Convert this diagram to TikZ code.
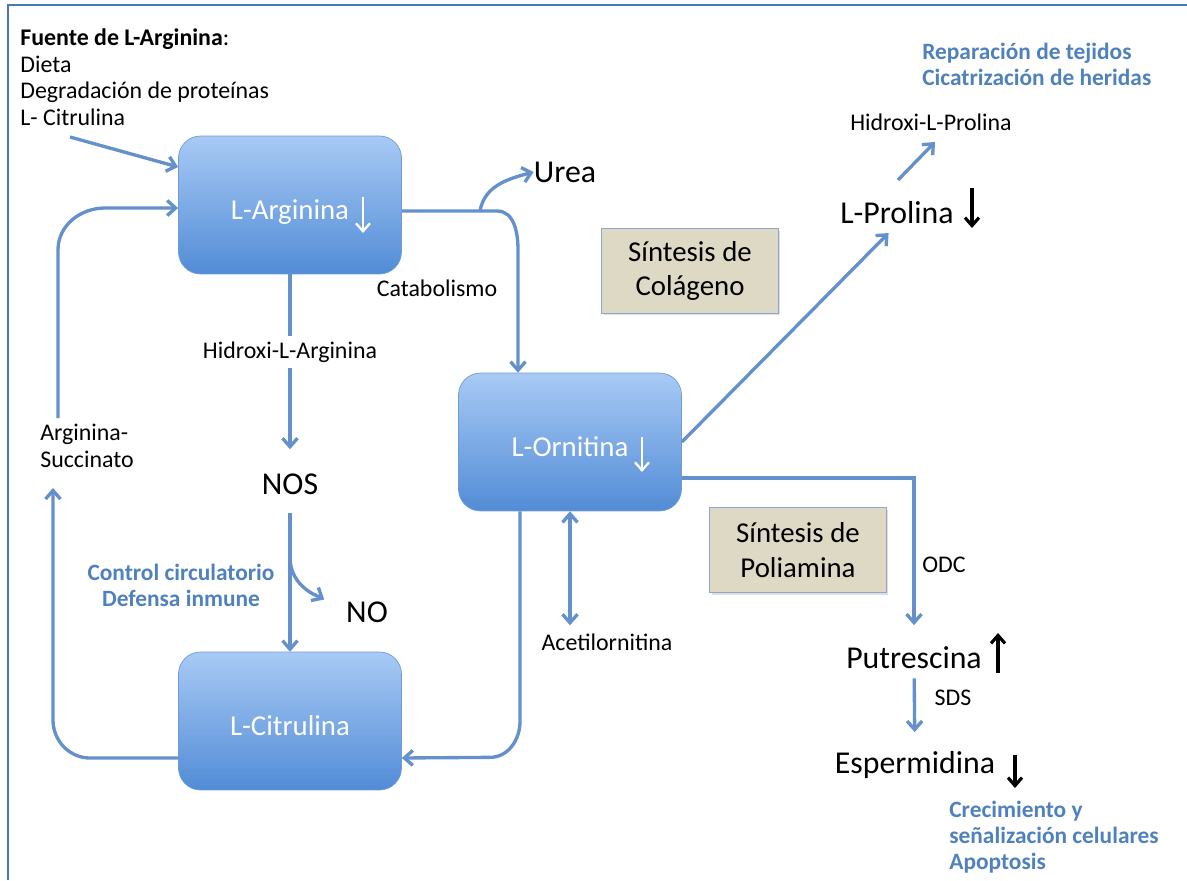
\documentclass[tikz,border=0pt]{standalone}
\usepackage{fontspec}
\setmainfont{Carlito}
\usetikzlibrary{arrows.meta,shadows}
\definecolor{flowblue}{RGB}{100,144,204}
\definecolor{textblue}{RGB}{79,129,189}
\definecolor{boxtop}{RGB}{168,202,245}
\definecolor{boxbot}{RGB}{82,140,214}
\definecolor{boxline}{RGB}{112,156,214}
\definecolor{notefill}{RGB}{221,217,196}
\definecolor{noteline}{RGB}{140,168,204}
\definecolor{framecol}{RGB}{74,120,180}
\tikzstyle{Block} = [draw=boxline, rounded corners=0.44cm, top color=boxtop, bottom color=boxbot, minimum width=4.46cm, minimum height=2.76cm, text=white, text height=20pt, text depth=4pt, font=\fontsize{16.4}{19.7}\selectfont]
\tikzstyle{Note} = [draw=noteline, fill=notefill, minimum width=3.54cm, minimum height=1.7cm, align=center, font=\fontsize{16.4}{19.8}\selectfont, drop shadow={opacity=0.25, shadow xshift=0.04cm, shadow yshift=-0.04cm}]
\tikzstyle{Big} = [inner sep=0pt, font=\fontsize{18.1}{21.7}\selectfont]
\tikzstyle{Small} = [inner sep=0pt, font=\fontsize{13.6}{15.3}\selectfont]
\tikzstyle{Effect} = [inner sep=0pt, text=textblue, font=\bfseries\fontsize{13.3}{14.8}\selectfont]
\tikzstyle{Line} = [draw=flowblue, line width=1.9pt]
\tikzstyle{Flow} = [Line, -{Straight Barb[length=1.7mm, width=3mm]}]
\tikzstyle{Both} = [Line, {Straight Barb[length=1.7mm, width=3mm]}-{Straight Barb[length=1.7mm, width=3mm]}]
\tikzstyle{Trend} = [line width=1.8pt, -{Straight Barb[length=1.6mm, width=2.8mm]}]

\begin{document}
\begin{tikzpicture}[x=0.02cm, y=-0.02cm]
  \useasboundingbox (0,0) rectangle (1187,880);
  \draw[framecol, line width=1.2pt] (8,880) -- (8,5) -- (1187,5);

  \node[Block] (arg) at (290,205) {L-Arginina};
  \node[Block] (orn) at (570,442) {L-Ornitina};
  \node[Block] (cit) at (290,721) {L-Citrulina};
  \node[Note]  (col) at (690,271) {Síntesis de\\Colágeno};
  \node[Note]  (pol) at (798,550) {Síntesis de\\Poliamina};

  \node[Small, anchor=north west, align=left] (src) at (20,28) {\textbf{Fuente de L-Arginina}:\\Dieta\\Degradación de proteínas\\L- Citrulina};
  \node[Small, align=left] (suc) at (87,446) {Arginina-\\Succinato};
  \node[Small, fill=white, inner sep=3pt] (hla) at (290,352) {Hidroxi-L-Arginina};
  \node[Small] (cat) at (437,288) {Catabolismo};
  \node[Small] (ace) at (607,642) {Acetilornitina};
  \node[Small] (hlp) at (931,122) {Hidroxi-L-Prolina};
  \node[Small] (odc) at (944,565) {ODC};
  \node[Small] (sds) at (953,698) {SDS};
  \node[Big] (urea) at (565,172) {Urea};
  \node[Big] (nos)  at (290,484) {NOS};
  \node[Big] (no)   at (367,612) {NO};
  \node[Big] (pro)  at (897,213) {L-Prolina};
  \node[Big] (put)  at (914,658) {Putrescina};
  \node[Big] (esp)  at (915,765) {Espermidina};
  \node[Effect, align=center] (ctl) at (181,585) {Control circulatorio\\Defensa inmune};
  \node[Effect, anchor=north west, align=left] (rep) at (922,43) {Reparación de tejidos\\Cicatrización de heridas};
  \node[Effect, anchor=north west, align=left] (cre) at (949,801) {Crecimiento y\\señalización celulares\\Apoptosis};

  % up / down marks
  \draw[Trend, white, line width=1.3pt] ([shift={(73,-8)}]arg.center) -- ([shift={(73,28)}]arg.center);
  \draw[Trend, white, line width=1.3pt] ([shift={(72,-5)}]orn.center) -- ([shift={(72,30)}]orn.center);
  \draw[Trend] ([shift={(75,-25)}]pro.center) -- ([shift={(75,15)}]pro.center);
  \draw[Trend] ([shift={(84,15)}]put.center) -- ([shift={(84,-25)}]put.center);
  \draw[Trend] ([shift={(100,-10)}]esp.center) -- ([shift={(100,23)}]esp.center);

  \coordinate (feed)   at (70,137);
  \coordinate (sucOut) at (58,418);
  \coordinate (sucIn)  at (53,488);
  \coordinate (split)  at (480,211);
  \coordinate (bend)   at (518,250);
  \coordinate (brNO)   at (290,557);

  % arginina cycle
  \draw[Flow] (feed) -- ([yshift=0.76cm]arg.west);
  \draw[Flow] (sucOut) -- (58,250) to [out=90,in=180] (105,208) -- ([yshift=-0.06cm]arg.west);
  \draw[Flow] ([yshift=-0.74cm]cit.west) -- (90,758) to [out=180,in=-90] (53,720) -- (sucIn);
  \draw[Line] (arg) -- (hla);
  \draw[Flow, shorten >=0.48cm] (hla) -- (nos);
  \draw[Flow, shorten <=0.36cm] (nos) -- (cit);
  \draw[Flow, shorten >=0.5cm] (brNO) to [out=-90,in=150] (no.west);

  % catabolismo
  \draw[Line] ([yshift=-0.12cm]arg.east) -- (split);
  \draw[Flow] (split) to [out=80,in=195] (urea.west);
  \draw[Flow] (split) -- ++(17,0) to [out=0,in=90] (bend) -- (bend |- orn.north);
  \draw[Flow] ([xshift=-1cm]orn.south) -- ++(0,210) to [out=-90,in=0] ++(-30,36) -- ([yshift=-0.74cm]cit.east);
  \draw[Both, shorten >=0.16cm] (orn.south) -- (orn.south |- ace.north);

  % prolina and poliaminas
  \draw[Flow, shorten >=0.24cm] (orn.east) -- (pro.south);
  \draw[Flow] ([shift={(1,-33)}]pro.center) -- ([shift={(4,20)}]hlp.center);
  \draw[Flow, shorten >=0.43cm] ([yshift=-0.72cm]orn.east) -| (put.north);
  \draw[Flow, shorten <=0.18cm, shorten >=0.38cm] (put) -- (esp);
\end{tikzpicture}
\end{document}
